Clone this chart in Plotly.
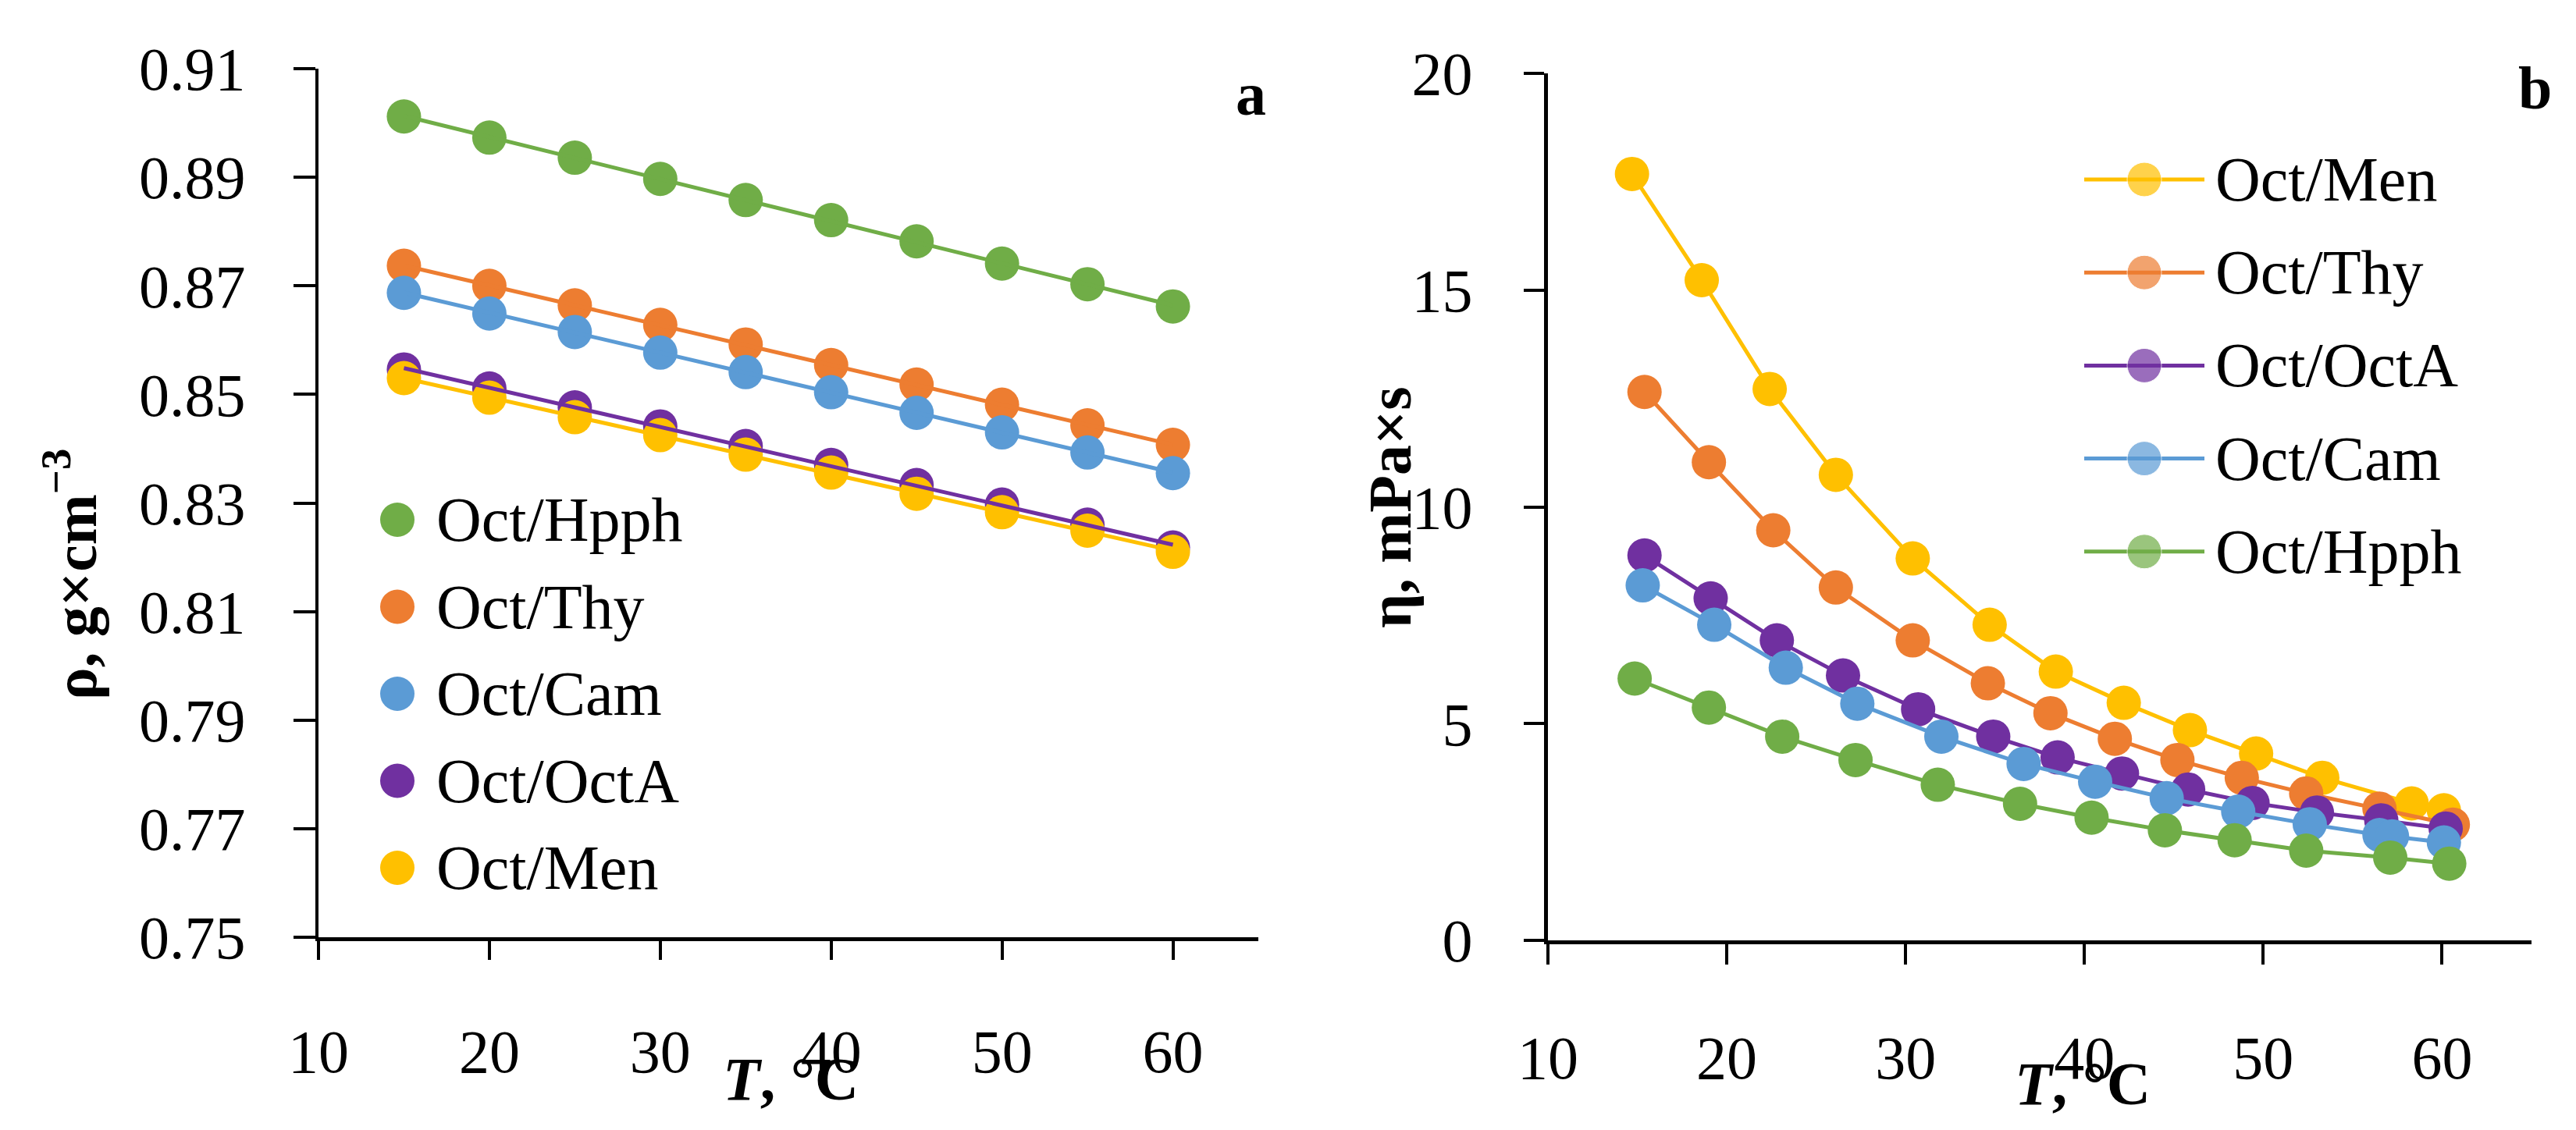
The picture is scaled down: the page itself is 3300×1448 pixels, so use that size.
import numpy as np
import plotly.graph_objects as go

# --- canvas ---
W, H = 3300, 1448
FONT = "Palatino Linotype, Book Antiqua, Palatino, Liberation Serif, serif"

# --- colours (Excel default palette) ---
C_HPPH = "#70AD47"
C_THY = "#ED7D31"
C_CAM = "#5B9BD5"
C_OCTA = "#7030A0"
C_MEN = "#FFC000"

# --- panel a: density, g/cm3 ---
T_a = [15, 20, 25, 30, 35, 40, 45, 50, 55, 60]
rho_hpph = [0.9012, 0.8973, 0.8936, 0.8897, 0.8858, 0.8821, 0.8782, 0.8741, 0.8703, 0.8662]
rho_thy = [0.8737, 0.8700, 0.8664, 0.8628, 0.8592, 0.8554, 0.8518, 0.8481, 0.8443, 0.8407]
rho_cam = [0.8687, 0.8649, 0.8615, 0.8577, 0.8541, 0.8504, 0.8466, 0.8430, 0.8393, 0.8355]
rho_octa = [0.8546, 0.8511, 0.8476, 0.8441, 0.8405, 0.8370, 0.8333, 0.8297, 0.8260, 0.8218]
rho_men = [0.8530, 0.8494, 0.8458, 0.8425, 0.8389, 0.8356, 0.8317, 0.8283, 0.8249, 0.8210]

# --- panel b: viscosity, mPa*s ---
T_men = [14.7, 18.6, 22.4, 26.1, 30.4, 34.7, 38.4, 42.2, 45.9, 49.6, 53.3, 58.3, 60.1]
eta_men = [17.68, 15.23, 12.72, 10.74, 8.81, 7.28, 6.20, 5.48, 4.85, 4.31, 3.75, 3.16, 3.00]
T_thy = [15.4, 19.0, 22.6, 26.1, 30.4, 34.6, 38.1, 41.7, 45.2, 48.8, 52.4, 56.5, 60.6]
eta_thy = [12.65, 11.03, 9.46, 8.14, 6.92, 5.93, 5.24, 4.65, 4.16, 3.75, 3.39, 3.04, 2.67]
T_octa = [15.4, 19.1, 22.8, 26.5, 30.7, 34.9, 38.5, 42.1, 45.8, 49.4, 53.0, 56.6, 60.2]
eta_octa = [8.88, 7.89, 6.92, 6.11, 5.33, 4.70, 4.22, 3.85, 3.48, 3.17, 2.95, 2.77, 2.58]
T_cam = [15.3, 19.3, 23.3, 27.3, 32.0, 36.6, 40.6, 44.6, 48.6, 52.6, 56.5, 57.2, 60.1]
eta_cam = [8.19, 7.28, 6.29, 5.46, 4.70, 4.07, 3.66, 3.28, 2.97, 2.68, 2.43, 2.40, 2.26]
T_hpph = [14.85, 19.0, 23.1, 27.2, 31.8, 36.4, 40.4, 44.5, 48.4, 52.4, 57.1, 60.4]
eta_hpph = [6.04, 5.37, 4.70, 4.16, 3.59, 3.15, 2.83, 2.54, 2.31, 2.07, 1.91, 1.77]

# --- axis ticks ---
x_ticks = [10, 20, 30, 40, 50, 60]
rho_ticks = [0.75, 0.77, 0.79, 0.81, 0.83, 0.85, 0.87, 0.89, 0.91]
eta_ticks = [0, 5, 10, 15, 20]

series_a = [
    ("Oct/Hpph", rho_hpph, C_HPPH),
    ("Oct/Thy", rho_thy, C_THY),
    ("Oct/Cam", rho_cam, C_CAM),
    ("Oct/OctA", rho_octa, C_OCTA),
    ("Oct/Men", rho_men, C_MEN),
]
series_b = [
    ("Oct/Men", T_men, eta_men, C_MEN),
    ("Oct/Thy", T_thy, eta_thy, C_THY),
    ("Oct/OctA", T_octa, eta_octa, C_OCTA),
    ("Oct/Cam", T_cam, eta_cam, C_CAM),
    ("Oct/Hpph", T_hpph, eta_hpph, C_HPPH),
]

MS = 44   # marker diameter, px
LW = 5    # line width, px
FS = 78   # font size, px


def px_x(p):
    return p / W


def px_y(p):
    return 1 - p / H


fig = go.Figure()

# panel a: markers first, then linear trendlines on top (like Excel)
for name, vals, col in series_a:
    fig.add_trace(go.Scatter(x=T_a, y=vals, mode="markers", name=name,
                             marker=dict(size=MS, color=col), showlegend=False,
                             xaxis="x", yaxis="y"))
for name, vals, col in series_a:
    k, b = np.polyfit(T_a, vals, 1)
    xs = [T_a[0], T_a[-1]]
    fig.add_trace(go.Scatter(x=xs, y=[k * v + b for v in xs], mode="lines",
                             line=dict(color=col, width=LW), showlegend=False,
                             hoverinfo="skip", xaxis="x", yaxis="y"))

# panel b
for name, tt, vals, col in series_b:
    fig.add_trace(go.Scatter(x=tt, y=vals, mode="lines+markers", name=name,
                             line=dict(color=col, width=LW),
                             marker=dict(size=MS, color=col), showlegend=False,
                             xaxis="x2", yaxis="y2"))

# --- hand-made legends on a pixel overlay (plotly caps legend markers at 16px) ---
LEG_A_X, LEG_A_Y0, LEG_A_DY = 501, 658, 111.5
for i, (name, vals, col) in enumerate(series_a):
    yy = LEG_A_Y0 + i * LEG_A_DY
    fig.add_trace(go.Scatter(x=[LEG_A_X], y=[yy], mode="markers",
                             marker=dict(size=MS, color=col), showlegend=False,
                             hoverinfo="skip", xaxis="x3", yaxis="y3"))
    fig.add_annotation(x=LEG_A_X + 48, y=yy, xref="x3", yref="y3", text=name,
                       showarrow=False, xanchor="left", yanchor="middle",
                       font=dict(size=FS + 2))

LEG_B_X0, LEG_B_X1, LEG_B_Y0, LEG_B_DY = 2662, 2816, 222, 119.2
for i, (name, tt, vals, col) in enumerate(series_b):
    yy = LEG_B_Y0 + i * LEG_B_DY
    xm = (LEG_B_X0 + LEG_B_X1) / 2
    fig.add_trace(go.Scatter(x=[LEG_B_X0, xm, LEG_B_X1], y=[yy, yy, yy],
                             mode="lines+markers", line=dict(color=col, width=LW),
                             marker=dict(size=[0, MS, 0], color=col), showlegend=False,
                             hoverinfo="skip", xaxis="x3", yaxis="y3"))
    fig.add_annotation(x=LEG_B_X1 + 12, y=yy, xref="x3", yref="y3", text=name,
                       showarrow=False, xanchor="left", yanchor="middle",
                       font=dict(size=FS + 2))

# axis titles and panel letters
labels = [
    ("<b>ρ, g×cm<sup>−3</sup></b>", 82, 728, -90),
    ("<b>η, mPa×s</b>", 1772, 642, -90),
    ("<b><i>T</i>, °C</b>", 1005, 1374, 0),
    ("<b><i>T</i>, °C</b>", 2660, 1380, 0),
    ("<b>a</b>", 1594, 112, 0),
    ("<b>b</b>", 3239, 104, 0),
]
for txt, xx, yy, ang in labels:
    fig.add_annotation(x=xx, y=yy, xref="x3", yref="y3", text=txt, showarrow=False,
                       textangle=ang, xanchor="center", yanchor="middle",
                       font=dict(size=FS))

axis_common = dict(showgrid=False, zeroline=False, showline=True, linecolor="black",
                   ticks="outside", tickcolor="black", automargin=False,
                   tickfont=dict(size=FS), fixedrange=True)

fig.update_layout(
    width=W, height=H,
    template="none",
    paper_bgcolor="white", plot_bgcolor="rgba(0,0,0,0)",
    margin=dict(l=0, r=0, t=0, b=0),
    font=dict(family=FONT, color="black", size=FS),
    showlegend=False,
    xaxis=dict(domain=[px_x(400), px_x(1604)], range=[10, 65], tickvals=x_ticks,
               linewidth=5, ticklen=24, tickwidth=4, ticklabelstandoff=50,
               anchor="y", **axis_common),
    yaxis=dict(domain=[px_y(1193), px_y(80)], range=[0.75, 0.91], tickvals=rho_ticks,
               tickformat=".2f", linewidth=4, ticklen=28, tickwidth=4,
               ticklabelstandoff=46, anchor="x", **axis_common),
    xaxis2=dict(domain=[px_x(1975), px_x(3235)], range=[10, 65], tickvals=x_ticks,
                linewidth=5, ticklen=26, tickwidth=4, ticklabelstandoff=52,
                anchor="y2", **axis_common),
    yaxis2=dict(domain=[px_y(1197), px_y(86)], range=[0, 20], tickvals=eta_ticks,
                linewidth=5, ticklen=26, tickwidth=4, ticklabelstandoff=50,
                anchor="x2", **axis_common),
    xaxis3=dict(domain=[0, 1], range=[0, W], visible=False, fixedrange=True),
    yaxis3=dict(domain=[0, 1], range=[H, 0], visible=False, fixedrange=True,
                anchor="x3"),
)

fig.write_html("out.html")
